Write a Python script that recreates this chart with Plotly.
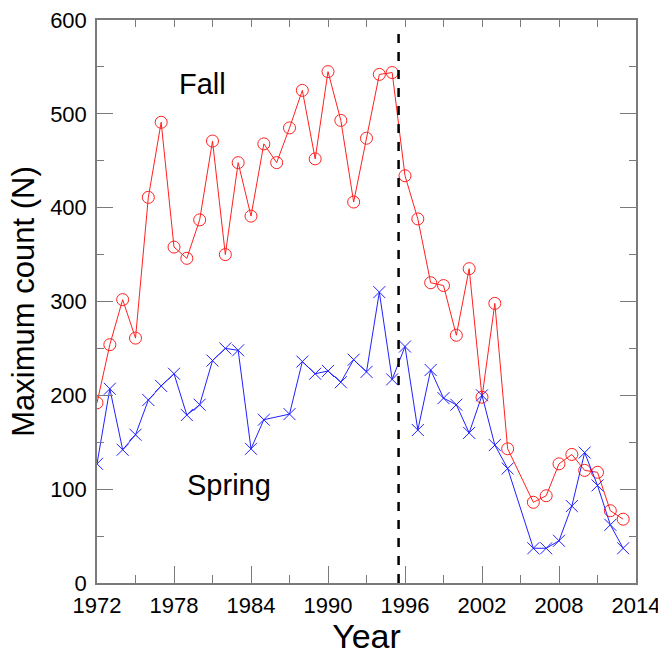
import plotly.graph_objects as go

years = list(range(1972, 2014))
fall = [192, 254, 302, 261, 411, 491, 358, 346, 387, 471, 350, 448, 391, 468, 448, 485,
        525, 452, 545, 493, 406, 474, 542, 544, 434, 388, 320, 317, 264, 335, 198, 298,
        143, None, 86, 93, 127, 137, 120, 118, 77, 68]
spring = [127, 207, 142, 158, 195, 210, 223, 179, 190, 237, 250, 248, 143, 174, None, 180,
          236, 223, 226, 214, 238, 225, 310, 217, 252, 163, 227, 197, 190, 160, 200, 147,
          122, None, 37, 37, 45, 82, 139, 104, 62, 37]
x_ticks = [1972, 1978, 1984, 1990, 1996, 2002, 2008, 2014]
y_ticks = [0, 100, 200, 300, 400, 500, 600]
break_year = 1995.5
labels = [("Fall", 1980.2, 532), ("Spring", 1982.3, 104)]

FONT = "Liberation Sans, Arial, sans-serif"
AX = "#7a7a7a"
RED = "#ff2020"
BLUE = "#2020ff"

fig = go.Figure()
fig.add_trace(go.Scatter(x=years, y=fall, mode="lines+markers", connectgaps=True,
                         line=dict(color=RED, width=1),
                         marker=dict(symbol="circle-open", size=12, color=RED, line=dict(width=1, color=RED)),
                         showlegend=False, hoverinfo="skip"))
fig.add_trace(go.Scatter(x=years, y=spring, mode="lines+markers", connectgaps=True,
                         line=dict(color=BLUE, width=1),
                         marker=dict(symbol="x-thin-open", size=12, color=BLUE, line=dict(width=1, color=BLUE)),
                         showlegend=False, hoverinfo="skip"))
fig.add_trace(go.Scatter(x=[], y=[], xaxis="x2", showlegend=False, hoverinfo="skip"))

fig.add_shape(type="line", x0=break_year, x1=break_year, y0=0, y1=590, xref="x", yref="y",
              line=dict(color="black", width=2.5, dash="dash"))

for txt, xx, yy in labels:
    fig.add_annotation(x=xx, y=yy, text=txt, showarrow=False,
                       font=dict(size=29, color="black", family=FONT))

fig.update_layout(
    width=658, height=655,
    margin=dict(l=97, r=22, t=20, b=72),
    plot_bgcolor="white", paper_bgcolor="white",
    font=dict(family=FONT, color="black"),
    hovermode=False,
    xaxis=dict(range=[1972, 2014], tickvals=x_ticks, ticks="inside", ticklen=17, tickwidth=1,
               tickcolor=AX, showline=True, linecolor=AX, linewidth=1.5, showgrid=False,
               zeroline=False, tickfont=dict(size=22), ticklabelstandoff=2,
               ticklabeloverflow="allow", automargin=False,
               minor=dict(dtick=3, tick0=1972, ticks="inside", ticklen=8, tickcolor=AX, showgrid=False),
               title=dict(text="Year", font=dict(size=34), standoff=3)),
    xaxis2=dict(range=[1972, 2014], overlaying="x", side="top", anchor="y", tick0=1972, dtick=3,
                ticks="inside", ticklen=7, tickcolor=AX, showticklabels=False, showline=True,
                linecolor=AX, linewidth=1.5, showgrid=False, zeroline=False, automargin=False),
    yaxis=dict(range=[0, 600], tickvals=y_ticks, ticks="inside", ticklen=16, tickwidth=1,
               tickcolor=AX, showline=True, linecolor=AX, linewidth=1.5, mirror="ticks",
               showgrid=False, zeroline=False, tickfont=dict(size=22), ticklabelstandoff=4,
               ticklabeloverflow="allow", automargin=False,
               minor=dict(dtick=50, tick0=0, ticks="inside", ticklen=7, tickcolor=AX, showgrid=False),
               title=dict(text="Maximum count (N)", font=dict(size=31), standoff=6)),
)

fig.write_html("out.html")
